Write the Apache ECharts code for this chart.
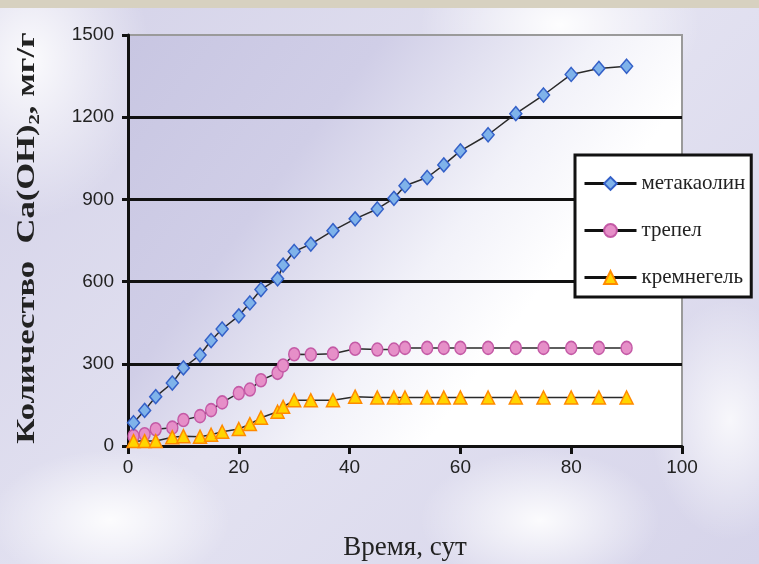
<!DOCTYPE html>
<html>
<head>
<meta charset="utf-8">
<script src="https://cdn.jsdelivr.net/npm/echarts@6/dist/echarts.min.js"></script>
<style>
html,body{margin:0;padding:0;width:759px;height:564px;overflow:hidden;}
body{
  background:
    linear-gradient(#d7d1c0,#d7d1c0) 0 0/100% 8px no-repeat,
    radial-gradient(ellipse 120px 160px at 30px 60px, rgba(255,255,255,0.9), rgba(255,255,255,0) 100%),
    radial-gradient(ellipse 140px 90px at 560px 25px, rgba(255,255,255,0.95), rgba(255,255,255,0) 100%),
    radial-gradient(ellipse 120px 70px at 110px 520px, rgba(255,255,255,0.9), rgba(255,255,255,0) 100%),
    radial-gradient(ellipse 120px 70px at 540px 520px, rgba(255,255,255,0.9), rgba(255,255,255,0) 100%),
    radial-gradient(ellipse 80px 120px at 730px 420px, rgba(255,255,255,0.8), rgba(255,255,255,0) 100%),
    linear-gradient(135deg,#d3d1e8 0%,#e3e2f1 50%,#d6d4ea 100%);
}
#chart{width:759px;height:564px;}
</style>
</head>
<body>
<div id="chart"></div>
<script>
// time, days
const days = [1,3,5,8,10,13,15,17,20,22,24,27,28,30,33,37,41,45,48,50,54,57,60,65,70,75,80,85,90];
// Ca(OH)2, mg/g
const metakaolin = [85,130,180,230,285,332,385,427,475,522,571,610,660,710,737,786,829,865,904,950,980,1026,1077,1136,1213,1281,1356,1378,1386];
const trepel = [36,43,61,67,95,109,131,159,193,206,240,267,294,335,334,337,355,352,352,358,358,358,358,358,358,358,358,358,358];
const kremnegel = [18,18,18,32,36,34,41,52,62,80,103,125,143,167,167,167,180,177,177,177,177,177,177,177,177,177,177,177,177];
const seriesNames = ['метакаолин','трепел','кремнегель'];
const xTicks = [0,20,40,60,80,100];
const yTicks = [0,300,600,900,1200,1500];
const yTitle = 'Количество  Ca(OH)₂, мг/г';
const xTitle = 'Время, сут';

const pairs = v => days.map((d,i)=>[d,v[i]]);

const chart = echarts.init(document.getElementById('chart'));
const lineStyle = {color:'#2a2a2a', width:1.5};
chart.setOption({
  animation:false,
  backgroundColor:'transparent',
  grid:{
    left:128, top:35, right:77, bottom:118, show:true, containLabel:false, outerBoundsMode:'none',
    borderColor:'#9a9a9a', borderWidth:2,
    backgroundColor:{type:'linear',x:0,y:0,x2:1,y2:1,colorStops:[
      {offset:0,color:'#c8c6e2'},{offset:0.3,color:'#d0cee7'},{offset:0.55,color:'#f2f2f9'},{offset:0.7,color:'#ffffff'},{offset:1,color:'#ffffff'}]}
  },
  graphic:[{
    type:'text', x:27, y:238, rotation:Math.PI/2, scaleX:1.33, scaleY:1,
    style:{text:yTitle, font:'bold 26px "Liberation Serif"', fill:'#222', textAlign:'center', textVerticalAlign:'middle'}
  }],
  xAxis:{
    type:'value', min:xTicks[0], max:xTicks[xTicks.length-1], interval:20,
    name:xTitle, nameLocation:'middle', nameGap:88,
    nameTextStyle:{fontFamily:'Liberation Serif', fontSize:27, color:'#222'},
    axisLine:{show:true, lineStyle:{color:'#111', width:3}},
    axisTick:{show:true, length:8, lineStyle:{color:'#111', width:3}},
    axisLabel:{fontFamily:'Liberation Sans', fontSize:19, color:'#222', margin:12},
    splitLine:{show:false}
  },
  yAxis:{
    type:'value', min:yTicks[0], max:yTicks[yTicks.length-1], interval:300,
    axisLine:{show:true, lineStyle:{color:'#111', width:3}},
    axisTick:{show:true, length:6, lineStyle:{color:'#111', width:3}},
    axisLabel:{fontFamily:'Liberation Sans', fontSize:19, color:'#222', margin:14, formatter:v=>String(v)},
    splitLine:{show:true, showMaxLine:false, lineStyle:{color:'#111', width:3}}
  },
  legend:{
    orient:'vertical', left:575, top:155,
    backgroundColor:'#ffffff', borderColor:'#111', borderWidth:3, borderRadius:0,
    padding:[18,6,9,8], itemGap:26, itemWidth:52, itemHeight:16,
    textStyle:{fontFamily:'Liberation Serif', fontSize:21, color:'#222'},
    lineStyle:{color:'#111', width:3},
    data:seriesNames
  },
  series:[
    {name:seriesNames[0], type:'line', data:pairs(metakaolin), symbol:'diamond', symbolSize:[12,14],
     lineStyle:lineStyle, itemStyle:{color:'#7fb3ea', borderColor:'#3460c8', borderWidth:1.5}, z:3},
    {name:seriesNames[1], type:'line', data:pairs(trepel), symbol:'circle', symbolSize:[11,13],
     lineStyle:lineStyle, itemStyle:{color:'#e68fc8', borderColor:'#c45aa6', borderWidth:1.5}, z:2},
    {name:seriesNames[2], type:'line', data:pairs(kremnegel), symbol:'triangle', symbolSize:[13,13],
     lineStyle:lineStyle, itemStyle:{color:'#ffd500', borderColor:'#ff8a00', borderWidth:1.5}, z:2}
  ]
});
</script>
</body>
</html>
